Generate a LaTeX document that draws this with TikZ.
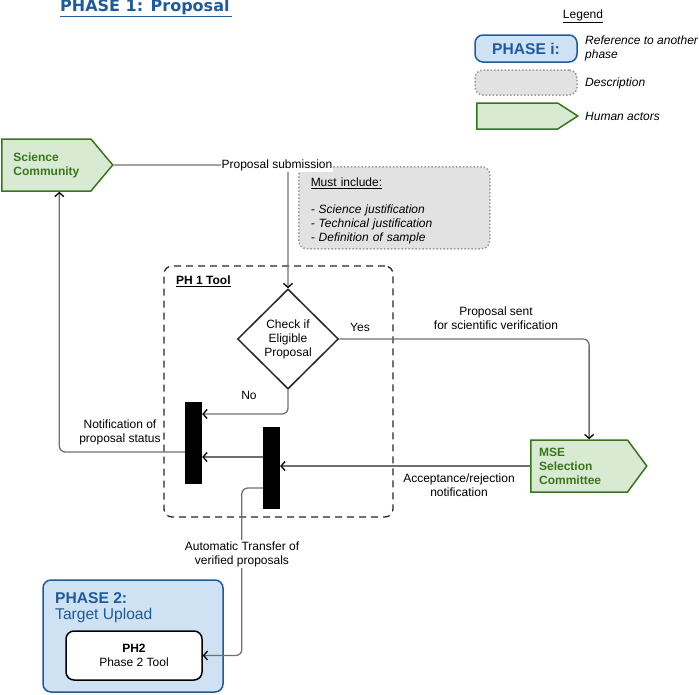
\documentclass[tikz,border=0pt]{standalone}
\usepackage{fontspec}
\setmainfont{Liberation Sans}
\newfontfamily\titlefont{DejaVu Sans}
\usetikzlibrary{shapes.geometric,shapes.symbols,arrows.meta}
\definecolor{phaseblue}{HTML}{1F5A9B}
\definecolor{phasefill}{HTML}{CFE2F3}
\definecolor{actorgreen}{HTML}{38761D}
\definecolor{actorfill}{HTML}{D9EAD3}
\definecolor{notefill}{HTML}{E2E2E2}
\definecolor{notedraw}{HTML}{9A9A9A}
\definecolor{flowgray}{HTML}{707070}
\newcommand{\bigtxt}{\fontsize{15.6}{18}\selectfont}

\begin{document}
\begin{tikzpicture}[x=1pt,y=-1pt,
    every node/.style={font=\fontsize{12}{14}\selectfont},
    flow/.style={draw=flowgray,line width=1.3pt,rounded corners=6pt},
    arr/.style={flow,-{Straight Barb[color=black,length=4pt,width=9pt]}},
    lbl/.style={fill=white,inner sep=1pt,align=center},
    plain/.style={inner sep=0,anchor=west},
    actor/.style={signal,signal to=east,draw=actorgreen,fill=actorfill,line width=1.5pt,
      text=actorgreen,font=\fontsize{12}{14}\selectfont\bfseries,align=left},
    phasebox/.style={draw=phaseblue,fill=phasefill,line width=1.5pt,rounded corners=8pt},
    notebox/.style={draw=notedraw,fill=notefill,dotted,line width=1.5pt,rounded corners=8pt},
    bar/.style={fill=black,minimum width=17,minimum height=82,inner sep=0}]
  \useasboundingbox (0,0) rectangle (699,694);
  % Title
  \node[plain,text=phaseblue,font=\titlefont\fontsize{16}{18}\selectfont\bfseries] (title) at (60,8) {\underline{PHASE 1: Proposal\,}};
  % Legend
  \node (leg) at (583,16) {\underline{Legend}};
  \node[phasebox,minimum width=102,minimum height=27,text=phaseblue,font=\bigtxt\bfseries] (legphase) at (526,48.5) {PHASE i:};
  \node[plain,align=left,font=\fontsize{12}{14}\selectfont\itshape] (legphasetxt) at (585,48) {Reference to another\\phase};
  \node[notebox,minimum width=102,minimum height=25] (legdesc) at (526,82.5) {};
  \node[plain,font=\fontsize{12}{14}\selectfont\itshape] (legdesctxt) at (585,83) {Description};
  \node[actor,anchor=west,minimum width=101,minimum height=26,signal pointer angle=66] (legactor) at (476,116) {};
  \node[plain,font=\fontsize{12}{14}\selectfont\itshape] (legactortxt) at (585,116) {Human actors};
  % Human actors
  \node[actor,anchor=west,minimum width=111,minimum height=52,signal pointer angle=100] (sci) at (1,165) {Science\\Community};
  \node[actor,anchor=west,minimum width=116,minimum height=52,signal pointer angle=107,text width=80] (mse) at (530,466) {MSE\\Selection\\Committee};
  % Description of a proposal
  \node[notebox,anchor=north west,minimum width=191,minimum height=82,text width=167,inner xsep=12,align=left] (desc) at (298,166)
    {\rule{0pt}{15pt}\underline{Must include:}\\[13pt]\textit{- Science justification}\\\textit{- Technical justification}\\\textit{- Definition of sample}};
  % PH 1 Tool
  \node[draw=black!85,dash pattern=on 7pt off 5pt,line width=1.3pt,rounded corners=8pt,minimum width=229,minimum height=251,inner sep=0] (tool) at (278.5,391.5) {};
  \node[plain,font=\fontsize{12}{14}\selectfont\bfseries] (toollbl) at (176,281) {\underline{PH 1 Tool}};
  \node[diamond,draw=black!85,line width=1.5pt,minimum width=101,minimum height=100,aspect=1,inner sep=0,align=center] (dia) at (288,339) {Check if\\Eligible\\Proposal};
  \node[bar] (bar1) at (193.5,443) {};
  \node[bar] (bar2) at (271.5,468) {};
  % Phase 2
  \node[phasebox,minimum width=180,minimum height=112,inner sep=0] (ph2box) at (133,636) {};
  \node[plain,text=phaseblue,font=\bigtxt\bfseries] (ph2title) at (55,598) {PHASE 2:};
  \node[plain,text=phaseblue,font=\bigtxt] (ph2sub) at (55,615) {Target Upload};
  \node[draw,line width=1.5pt,fill=white,rounded corners=8pt,minimum width=136,minimum height=49,align=center] (ph2) at (134,655.5) {\textbf{PH2}\\Phase 2 Tool};
  % Connectors
  \draw[arr] (sci.east) -| (dia.north);
  \node[lbl] (sub) at (277,165) {Proposal submission};
  \draw[arr] (dia.east) -| ([xshift=10pt]mse.north);
  \node (yes) at (360,327) {Yes};
  \node[align=center] (sent) at (496,318.5) {Proposal sent\\for scientific verification};
  \draw[arr] (dia.south) |- ([yshift=29pt]bar1.east);
  \node (no) at (249,395) {No};
  \draw[arr] ([yshift=-9pt]bar1.west) -| ([xshift=13pt]sci.south);
  \node[align=center] (notif) at (120,432.5) {Notification of\\proposal status};
  \draw[arr] ([yshift=11pt]bar2.west) -- ([yshift=11pt]bar2.west -| bar1.east);
  \draw[arr] (mse.west) -- (mse.west -| bar2.east);
  \node[align=center] (accept) at (459,485.5) {Acceptance/rejection\\notification};
  \draw[arr] ([yshift=-20pt]bar2.west) -- ++(-21,0) |- (ph2.east);
  \node[lbl] (xfer) at (242,554) {Automatic Transfer of\\verified proposals};
\end{tikzpicture}
\end{document}
